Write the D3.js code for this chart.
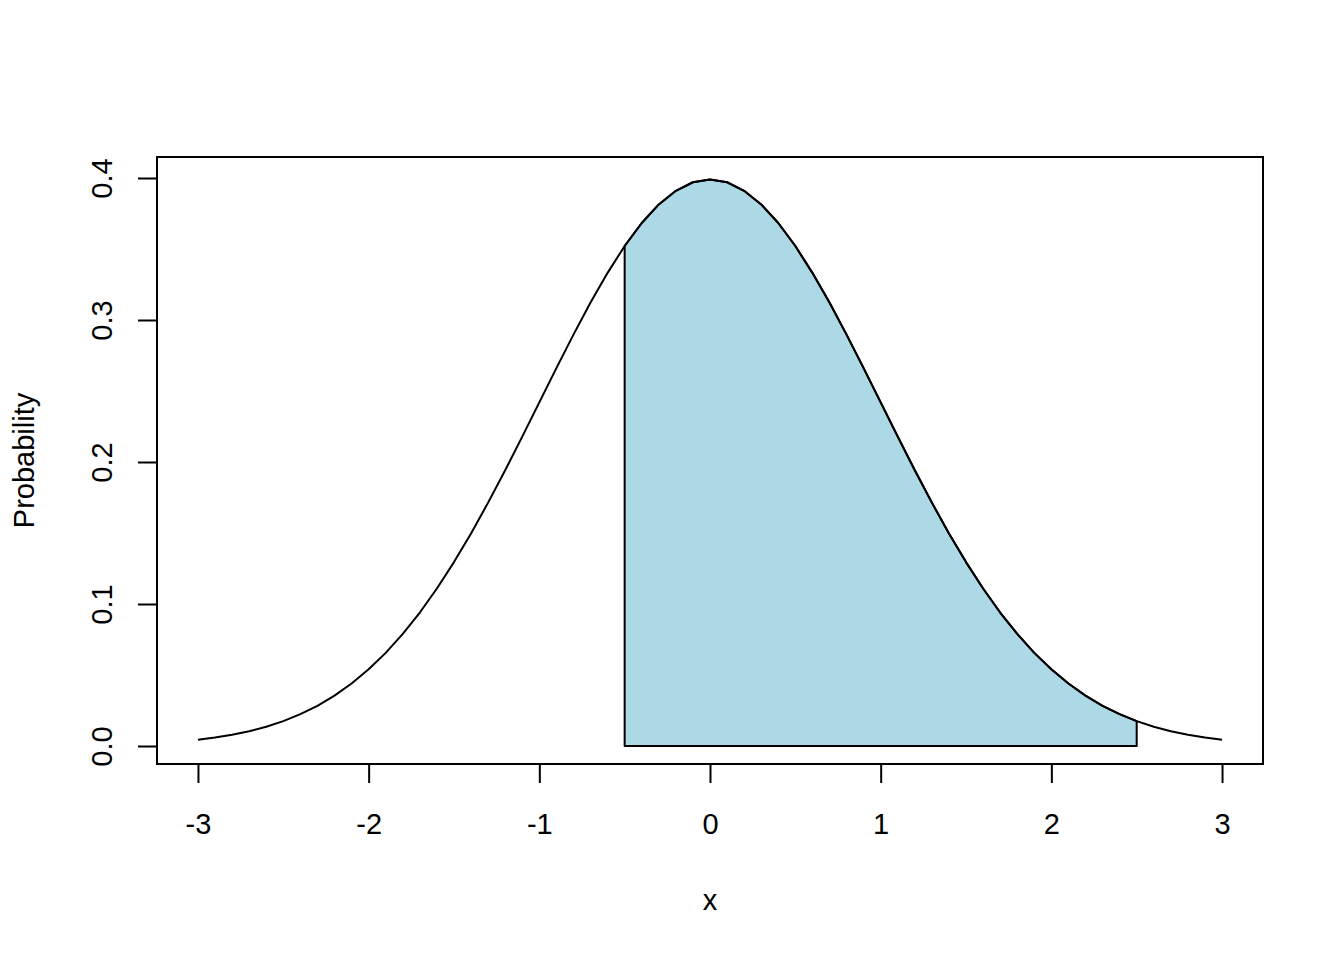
<!DOCTYPE html>
<html>
<head>
<meta charset="utf-8">
<script src="https://cdn.jsdelivr.net/npm/d3@7"></script>
<style>
  html, body { margin: 0; padding: 0; background: #fff; }
  svg { display: block; }
  text { font-family: "Liberation Sans", Arial, sans-serif; fill: #000; }
</style>
</head>
<body>
<script>
// Data (standard normal density curve)
const xValues = [-3.0,-2.9,-2.8,-2.7,-2.6,-2.5,-2.4,-2.3,-2.2,-2.1,-2.0,-1.9,-1.8,-1.7,-1.6,-1.5,-1.4,-1.3,-1.2,-1.1,-1.0,-0.9,-0.8,-0.7,-0.6,-0.5,-0.4,-0.3,-0.2,-0.1,0.0,0.1,0.2,0.3,0.4,0.5,0.6,0.7,0.8,0.9,1.0,1.1,1.2,1.3,1.4,1.5,1.6,1.7,1.8,1.9,2.0,2.1,2.2,2.3,2.4,2.5,2.6,2.7,2.8,2.9,3.0];
const densityValues = [0.0044,0.0060,0.0079,0.0104,0.0136,0.0175,0.0224,0.0283,0.0355,0.0440,0.0540,0.0656,0.0790,0.0940,0.1109,0.1295,0.1497,0.1714,0.1942,0.2179,0.2420,0.2661,0.2897,0.3123,0.3332,0.3521,0.3683,0.3814,0.3910,0.3970,0.3989,0.3970,0.3910,0.3814,0.3683,0.3521,0.3332,0.3123,0.2897,0.2661,0.2420,0.2179,0.1942,0.1714,0.1497,0.1295,0.1109,0.0940,0.0790,0.0656,0.0540,0.0440,0.0355,0.0283,0.0224,0.0175,0.0136,0.0104,0.0079,0.0060,0.0044];
const shadeBounds = [-0.5, 2.5];
const xTicks = [-3,-2,-1,0,1,2,3];
const xTickLabels = ["-3","-2","-1","0","1","2","3"];
const yTicks = [0.0,0.1,0.2,0.3,0.4];
const yTickLabels = ["0.0","0.1","0.2","0.3","0.4"];
const xTitle = "x";
const yTitle = "Probability";

const W = 1344, H = 960;
const box = {left: 157, right: 1263, top: 157, bottom: 764};

const svg = d3.select("body").append("svg").attr("width", W).attr("height", H);

const x = d3.scaleLinear().domain([-3.24, 3.24]).range([box.left, box.right]);
const y = d3.scaleLinear().domain([0, 0.4]).range([746, 178]);

const pts = xValues.map((v, i) => ({x: v, y: densityValues[i]}));

// shaded polygon
const inside = pts.filter(p => p.x >= shadeBounds[0] - 1e-9 && p.x <= shadeBounds[1] + 1e-9);
const poly = [{x: shadeBounds[0], y: 0}, ...inside, {x: shadeBounds[1], y: 0}];
svg.append("path")
  .attr("d", d3.line().x(d => x(d.x)).y(d => y(d.y))(poly) + "Z")
  .attr("fill", "#ADD8E6")
  .attr("stroke", "#000")
  .attr("stroke-width", 2)
  .attr("stroke-linejoin", "round");

// curve
svg.append("path")
  .attr("d", d3.line().x(d => x(d.x)).y(d => y(d.y))(pts))
  .attr("fill", "none")
  .attr("stroke", "#000")
  .attr("stroke-width", 2)
  .attr("stroke-linejoin", "round");

// box
svg.append("rect")
  .attr("x", box.left).attr("y", box.top)
  .attr("width", box.right - box.left).attr("height", box.bottom - box.top)
  .attr("fill", "none").attr("stroke", "#000").attr("stroke-width", 2);

// x axis
const xAxis = d3.axisBottom(x).tickValues(xTicks).tickSize(19).tickPadding(0)
  .tickFormat((d, i) => xTickLabels[i]);
const gx = svg.append("g").attr("transform", `translate(0,${box.bottom})`).call(xAxis);
gx.select(".domain").attr("d", `M${x(-3)},0H${x(3)}`).attr("stroke-width", 2);
gx.selectAll(".tick line").attr("stroke-width", 2);
gx.selectAll(".tick text")
  .attr("y", 0).attr("dy", null)
  .attr("transform", "translate(0,70)")
  .style("font-size", "29px")
  .style("font-family", '"Liberation Sans", Arial, sans-serif');

// y axis
const yAxis = d3.axisLeft(y).tickValues(yTicks).tickSize(19).tickPadding(0)
  .tickFormat((d, i) => yTickLabels[i]);
const gy = svg.append("g").attr("transform", `translate(${box.left},0)`).call(yAxis);
gy.select(".domain").attr("d", `M0,${y(0)}V${y(0.4)}`).attr("stroke-width", 2);
gy.selectAll(".tick line").attr("stroke-width", 2);
gy.selectAll(".tick text")
  .attr("x", 0).attr("dy", null)
  .attr("text-anchor", "middle")
  .attr("transform", "translate(-45,0) rotate(-90)")
  .style("font-size", "29px")
  .style("font-family", '"Liberation Sans", Arial, sans-serif');

// titles
svg.append("text")
  .attr("x", x(0)).attr("y", 910)
  .attr("text-anchor", "middle")
  .style("font-size", "29px")
  .text(xTitle);

svg.append("text")
  .attr("transform", `translate(34,${(box.top + box.bottom) / 2}) rotate(-90)`)
  .attr("text-anchor", "middle")
  .style("font-size", "29px")
  .text(yTitle);
</script>
</body>
</html>
